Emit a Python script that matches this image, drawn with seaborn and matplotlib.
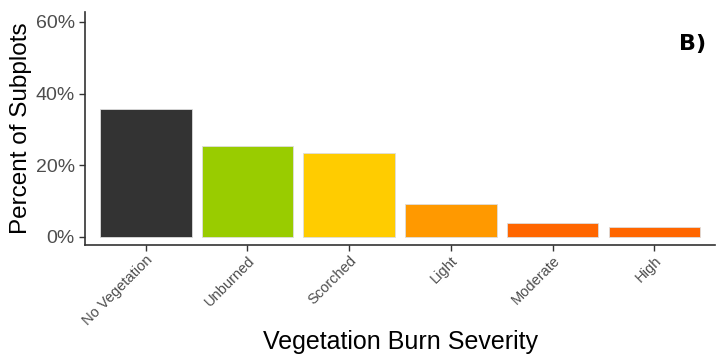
import matplotlib
matplotlib.use("Agg")
import matplotlib.pyplot as plt
import matplotlib.ticker as mticker
import seaborn as sns
import pandas as pd

# Share of subplots in each vegetation burn severity class
categories = ["No Vegetation", "Unburned", "Scorched", "Light", "Moderate", "High"]
percent = [35.8, 25.3, 23.5, 9.2, 4.0, 2.7]
colors = ["#333333", "#99CC00", "#FFCC00", "#FF9900", "#FF6600", "#FF6600"]
y_ticks = [0, 20, 40, 60]

df = pd.DataFrame({"severity": categories, "pct": percent})

sns.set_theme(style="white")
plt.rcParams["font.family"] = ["Liberation Sans", "DejaVu Sans"]

fig = plt.figure(figsize=(7.24, 3.59), dpi=100)
ax = fig.add_axes([0.117, 0.318, 0.871, 0.649])

sns.barplot(data=df, x="severity", y="pct", hue="severity", palette=colors,
            order=categories, legend=False, width=0.9, saturation=1,
            edgecolor="#dddddd", linewidth=0.6, ax=ax)

ax.set_xlim(-0.6, len(categories) - 0.4)
ax.set_ylim(-2.2, 62.8)
ax.set_yticks(y_ticks)
ax.yaxis.set_major_formatter(mticker.FuncFormatter(lambda v, p: f"{v:.0f}%"))

for side in ["top", "right"]:
    ax.spines[side].set_visible(False)
for side in ["left", "bottom"]:
    ax.spines[side].set_color("#333333")
    ax.spines[side].set_linewidth(1.2)

ax.tick_params(axis="both", which="major", length=4, width=1, color="#333333",
               bottom=True, left=True)
ax.tick_params(axis="y", labelsize=14, labelcolor="#4D4D4D", pad=3)
ax.tick_params(axis="x", labelsize=10.5, labelcolor="#4D4D4D", pad=2)
plt.setp(ax.get_xticklabels(), rotation=45, ha="right", rotation_mode="anchor")

ax.set_xlabel("Vegetation Burn Severity", fontsize=18, color="black", labelpad=1)
ax.set_ylabel("Percent of Subplots", fontsize=17.5, color="black", labelpad=3)

fig.text(0.975, 0.862, "B)", fontsize=16, fontweight="heavy", color="black",
         ha="right", va="baseline", family="DejaVu Sans")

fig.savefig("out.png", dpi=100, facecolor="white")
